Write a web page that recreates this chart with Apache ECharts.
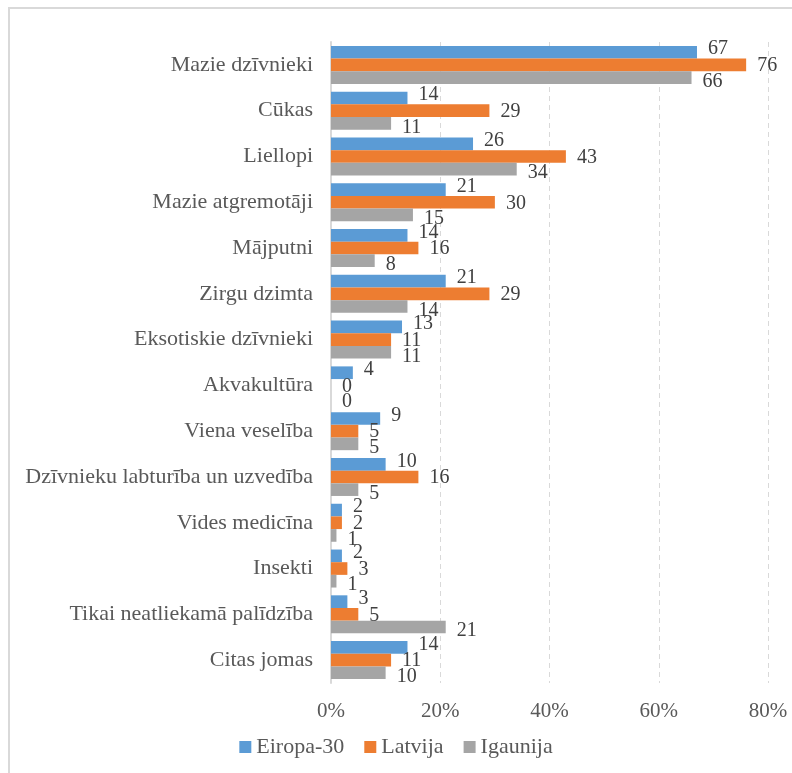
<!DOCTYPE html>
<html>
<head>
<meta charset="utf-8">
<script src="https://cdn.jsdelivr.net/npm/echarts@6/dist/echarts.min.js"></script>
<style>
  html, body { margin: 0; padding: 0; background: #fff; overflow: hidden; }
  #frame { position: absolute; left: 8px; top: 7px; width: 800px; height: 800px; border: 2px solid #d9d9d9; box-sizing: border-box; }
  #chart { position: absolute; left: 0; top: 0; width: 792px; height: 773px; }
</style>
</head>
<body>
<div id="frame"></div>
<div id="chart"></div>
<script>
const categories = [
  'Mazie dzīvnieki', 'Cūkas', 'Liellopi', 'Mazie atgremotāji', 'Mājputni',
  'Zirgu dzimta', 'Eksotiskie dzīvnieki', 'Akvakultūra', 'Viena veselība',
  'Dzīvnieku labturība un uzvedība', 'Vides medicīna', 'Insekti',
  'Tikai neatliekamā palīdzība', 'Citas jomas'
]
const eiropa = [67, 14, 26, 21, 14, 21, 13, 4, 9, 10, 2, 2, 3, 14]
const latvija = [76, 29, 43, 30, 16, 29, 11, 0, 5, 16, 2, 3, 5, 11]
const igaunija = [66, 11, 34, 15, 8, 14, 11, 0, 5, 5, 1, 1, 21, 10]
const seriesNames = ['Eiropa-30', 'Latvija', 'Igaunija']
const colors = ['#5b9bd5', '#ed7d31', '#a5a5a5']
const xTicks = [0, 20, 40, 60, 80]

const font = 'Liberation Serif'
const labelOffsets = [[0, -3], [0, 1], [0, 4]]

function makeSeries(name, data, idx) {
  return {
    name: name,
    type: 'bar',
    data: data,
    barGap: '0%',
    barCategoryGap: '17%',
    itemStyle: { color: colors[idx] },
    label: {
      show: true,
      position: 'right',
      distance: 11,
      offset: labelOffsets[idx],
      color: '#404040',
      fontFamily: font,
      fontSize: 20
    }
  }
}

const chart = echarts.init(document.getElementById('chart'))
chart.setOption({
  animation: false,
  textStyle: { fontFamily: font },
  grid: { left: 331, right: 24, top: 42, bottom: 90, containLabel: false },
  legend: {
    bottom: 10,
    left: 'center',
    itemWidth: 12,
    itemHeight: 12,
    itemGap: 20,
    icon: 'rect',
    textStyle: { color: '#595959', fontFamily: font, fontSize: 22 },
    data: seriesNames
  },
  xAxis: {
    type: 'value',
    min: xTicks[0],
    max: xTicks[xTicks.length - 1],
    interval: 20,
    axisLine: { show: false },
    axisTick: { show: false },
    axisLabel: {
      margin: 18,
      color: '#595959',
      fontFamily: font,
      fontSize: 21,
      formatter: '{value}%'
    },
    splitLine: { show: true, lineStyle: { color: '#d9d9d9', type: [5, 4], width: 1 } }
  },
  yAxis: {
    type: 'category',
    inverse: true,
    data: categories,
    axisLine: { show: true, lineStyle: { color: '#d9d9d9', width: 2 } },
    axisTick: { show: false },
    axisLabel: {
      margin: 18,
      color: '#595959',
      fontFamily: font,
      fontSize: 22
    }
  },
  series: [
    makeSeries(seriesNames[0], eiropa, 0),
    makeSeries(seriesNames[1], latvija, 1),
    makeSeries(seriesNames[2], igaunija, 2)
  ]
})
</script>
</body>
</html>
